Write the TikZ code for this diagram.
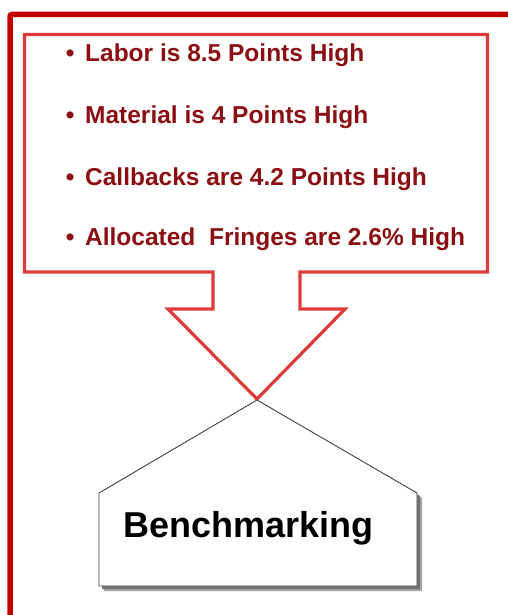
\documentclass[tikz,border=0pt]{standalone}
\usepackage{fontspec}
\setmainfont{Liberation Sans}
\definecolor{framered}{HTML}{C00000}
\definecolor{calloutred}{HTML}{DE3B3B}
\definecolor{textred}{HTML}{8B0F12}
\begin{document}
\begin{tikzpicture}[x=1pt,y=-1pt,
  bulletline/.style={anchor=base west,inner sep=0pt,color=textred,font=\fontsize{24.5}{29}\selectfont\bfseries},
  benchtext/.style={anchor=base west,inner sep=0pt,font=\fontsize{36}{40}\selectfont\bfseries}]
\useasboundingbox (0,0) rectangle (508,615);
% outer frame, runs off the page at right and bottom
\draw[line width=5.5pt,color=framered,rounded corners=2pt] (10,640) -- (10,14.5) -- (530,14.5);
% callout box with the arrow pointing down
\draw[line width=3.2pt,color=calloutred] (24.5,34.5) -- (487.5,34.5) -- (487.5,272) -- (300,272) -- (300,309) -- (345,309) -- (257,399) -- (168,309) -- (213,309) -- (213,272) -- (24.5,272) -- cycle;
\node[bulletline] (labor) at (65.7,62) {\textbullet\hspace{10.7pt}Labor is 8.5 Points High};
\node[bulletline] (material) at (65.7,123) {\textbullet\hspace{10.7pt}Material is 4 Points High};
\node[bulletline] (callbacks) at (65.7,185) {\textbullet\hspace{10.7pt}Callbacks are 4.2 Points High};
\node[bulletline] (fringes) at (65.7,245) {\textbullet\hspace{10.7pt}Allocated\ \ Fringes are 2.6\% High};
% pentagon and its shadow
\fill[black!35] (261,404) -- (422,498) -- (422,591) -- (104,591) -- (104,498) -- cycle;
\fill[black!55] (260,403) -- (420,496) -- (420,589) -- (102,589) -- (102,496) -- cycle;
\filldraw[fill=white,draw=black!75,line width=.9pt] (257,400) -- (417,493) -- (417,586) -- (99,586) -- (99,493) -- cycle;
\node[benchtext] (bench) at (123,537) {Benchmarking};
\end{tikzpicture}
\end{document}
